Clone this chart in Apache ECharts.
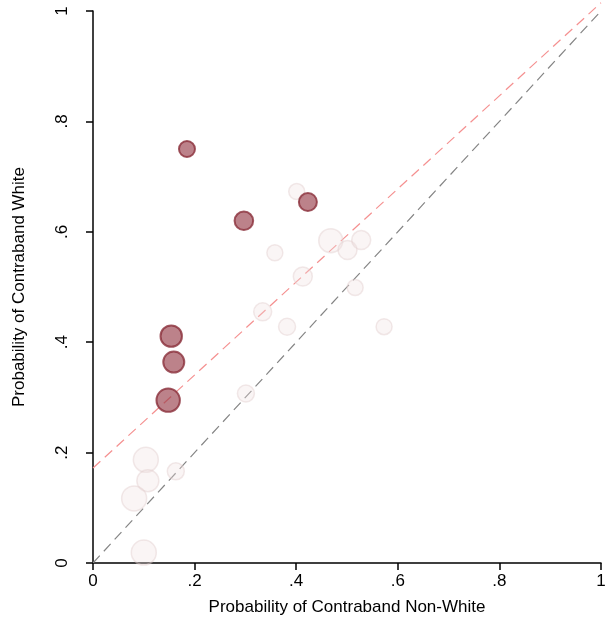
<!DOCTYPE html>
<html><head><meta charset="utf-8">
<script src="https://cdn.jsdelivr.net/npm/echarts@6/dist/echarts.min.js"></script>
<style>html,body{margin:0;padding:0;background:#fff}#c{width:613px;height:624px}</style>
</head><body><div id="c"></div>
<script>
// Highlighted (dark) points: [non-white prob, white prob, weight]
const darkX = [0.185, 0.297, 0.423, 0.154, 0.159, 0.148];
const darkY = [0.750, 0.620, 0.654, 0.411, 0.364, 0.295];
const darkW = [8, 9.3, 9, 10.7, 10.5, 11.7];
// Other (light) points
const lightX = [0.401, 0.358, 0.468, 0.413, 0.334, 0.382, 0.301, 0.501, 0.528, 0.516, 0.573, 0.104, 0.108, 0.081, 0.163, 0.100];
const lightY = [0.673, 0.562, 0.584, 0.519, 0.455, 0.428, 0.307, 0.567, 0.585, 0.499, 0.428, 0.187, 0.149, 0.117, 0.166, 0.019];
const lightW = [8, 8, 12, 9.5, 9, 8.5, 8.5, 9.5, 9.5, 8, 8, 12.5, 11, 12.5, 8.5, 12.5];
// Reference lines
const diagLine = [[0, 0], [1, 1]];
const fitLine = [[0, 0.172], [1, 1.015]];
const tickVals = [0, 0.2, 0.4, 0.6, 0.8, 1];
const tickLabels = ['0', '.2', '.4', '.6', '.8', '1'];

function lbl(v) { const i = tickVals.findIndex(t => Math.abs(t - v) < 1e-9); return i >= 0 ? tickLabels[i] : ''; }
const zip = (xs, ys, ws) => xs.map((x, i) => [x, ys[i], ws[i]]);
const font = 'Liberation Sans, Arial, sans-serif';

const chart = echarts.init(document.getElementById('c'), null, {renderer: 'canvas'});
chart.setOption({
  animation: false,
  backgroundColor: '#fff',
  grid: {left: 93, right: 12, top: 11, bottom: 61, containLabel: false},
  xAxis: {
    type: 'value', min: 0, max: 1, interval: 0.2,
    axisLine: {show: true, onZero: false, lineStyle: {color: '#000', width: 1.5}},
    axisTick: {show: true, inside: false, length: 7, lineStyle: {color: '#000', width: 1.5}},
    axisLabel: {color: '#000', fontFamily: font, fontSize: 17, margin: 10, formatter: lbl},
    splitLine: {show: false},
    name: 'Probability of Contraband Non-White', nameLocation: 'middle', nameGap: 36,
    nameTextStyle: {color: '#000', fontFamily: font, fontSize: 17}
  },
  yAxis: {
    type: 'value', min: 0, max: 1, interval: 0.2,
    axisLine: {show: true, onZero: false, lineStyle: {color: '#000', width: 1.5}},
    axisTick: {show: true, inside: false, length: 7, lineStyle: {color: '#000', width: 1.5}},
    axisLabel: {color: '#000', fontFamily: font, fontSize: 17, margin: 22, rotate: 90, formatter: lbl, verticalAlign: 'bottom', align: 'center'},
    splitLine: {show: false},
    name: 'Probability of Contraband White', nameLocation: 'middle', nameGap: 65, nameRotate: 90,
    nameTextStyle: {color: '#000', fontFamily: font, fontSize: 17}
  },
  series: [
    {type: 'line', data: diagLine, symbol: 'none', silent: true, z: 1,
     lineStyle: {color: '#858585', width: 1.2, type: [10, 6]}},
    {type: 'line', data: fitLine, symbol: 'none', silent: true, clip: false, z: 1,
     lineStyle: {color: '#f59090', width: 1.2, type: [10, 6]}},
    {type: 'scatter', data: zip(lightX, lightY, lightW), z: 2,
     symbolSize: d => d[2] * 2,
     itemStyle: {color: 'rgba(238,225,225,0.4)', borderColor: 'rgba(225,205,205,0.55)', borderWidth: 1.5}},
    {type: 'scatter', data: zip(darkX, darkY, darkW), z: 3,
     symbolSize: d => d[2] * 2,
     itemStyle: {color: 'rgba(150,60,72,0.8)', borderColor: '#8a2e3a', borderWidth: 2}}
  ]
});
</script></body></html>
